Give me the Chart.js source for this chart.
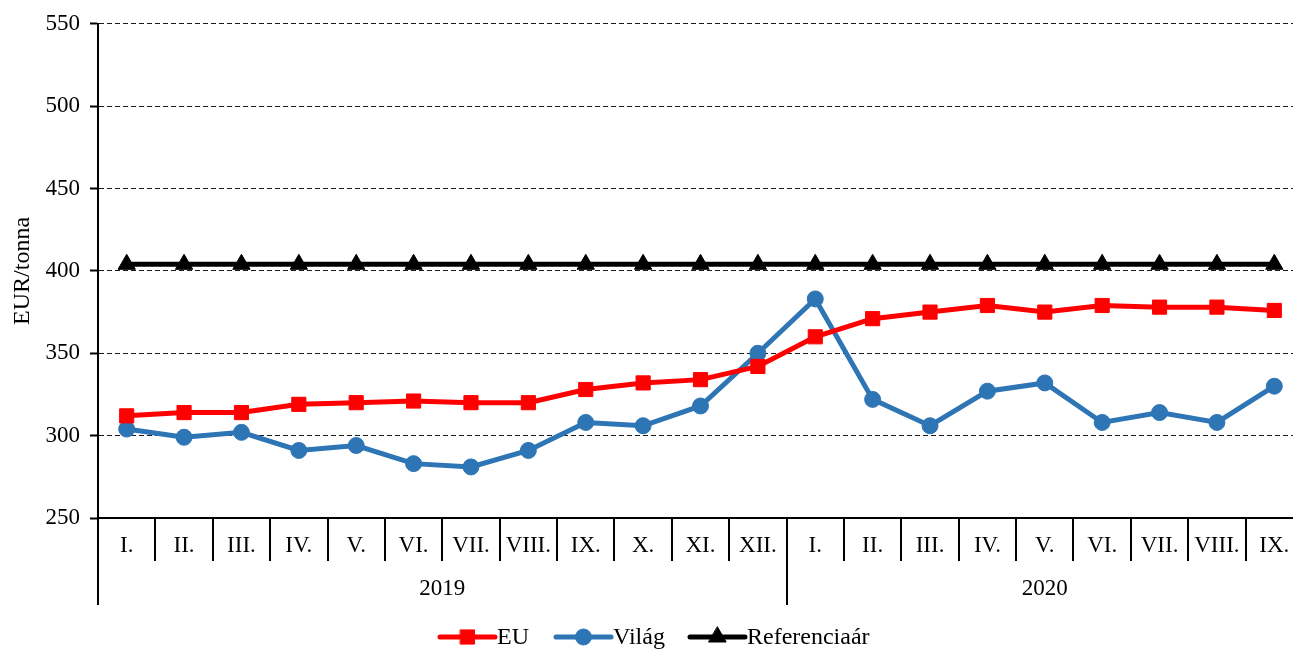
<!DOCTYPE html>
<html>
<head>
<meta charset="utf-8">
<script src="https://cdn.jsdelivr.net/npm/chart.js@4/dist/chart.umd.min.js"></script>
<style>
  html, body { margin: 0; padding: 0; background: #fff; overflow: hidden; }
  #wrap { width: 1314px; height: 649px; }
</style>
</head>
<body>
<div id="wrap"><canvas id="chart" width="1314" height="649"></canvas></div>
<script>
// months of 2019 (12) and 2020 (9)
const months = ["I.", "II.", "III.", "IV.", "V.", "VI.", "VII.", "VIII.", "IX.", "X.", "XI.", "XII.",
                "I.", "II.", "III.", "IV.", "V.", "VI.", "VII.", "VIII.", "IX."];
const years = ["2019", "2020"];
const yearLengths = [12, 9];

const euValues = [312, 314, 314, 319, 320, 321, 320, 320, 328, 332, 334, 342,
                  360, 371, 375, 379, 375, 379, 378, 378, 376];
const vilagValues = [304, 299, 302, 291, 294, 283, 281, 291, 308, 306, 318, 350,
                     383, 322, 306, 327, 332, 308, 314, 308, 330];
const refValues = [404, 404, 404, 404, 404, 404, 404, 404, 404, 404, 404, 404,
                   404, 404, 404, 404, 404, 404, 404, 404, 404];

const yTicks = [250, 300, 350, 400, 450, 500, 550];

const fontFamily = "'Liberation Serif', 'Times New Roman', serif";

// boxes under the x axis, year labels and a line+marker legend
const axisBoxes = {
    id: "axisBoxes",
    afterDraw(chart) {
        let ctx = chart.ctx;
        let x = chart.scales.x;
        let area = chart.chartArea;
        let half = (x.getPixelForValue(1) - x.getPixelForValue(0)) / 2;
        ctx.save();
        ctx.strokeStyle = "#000";
        ctx.lineWidth = 2;
        // month separators
        for (let i = 1; i < months.length; i++) {
            let px = Math.round(x.getPixelForValue(i) - half);
            ctx.beginPath();
            ctx.moveTo(px, area.bottom);
            ctx.lineTo(px, area.bottom + 43);
            ctx.stroke();
        }
        // year separators and labels
        let start = 0;
        ctx.fillStyle = "#000";
        ctx.font = "23px " + fontFamily;
        ctx.textAlign = "center";
        ctx.textBaseline = "middle";
        for (let k = 0; k <= years.length; k++) {
            let px = Math.round(x.getPixelForValue(start) - half);
            ctx.beginPath();
            ctx.moveTo(px, area.bottom);
            ctx.lineTo(px, area.bottom + 87);
            ctx.stroke();
            if (k < years.length) {
                let end = start + yearLengths[k];
                let left = x.getPixelForValue(start) - half;
                let right = x.getPixelForValue(end - 1) + half;
                ctx.fillText(years[k], (left + right) / 2, area.bottom + 71);
                start = end;
            }
        }
        // legend
        let legendY = 637;
        let items = [
            { x: 440, ds: chart.data.datasets[0] },
            { x: 556, ds: chart.data.datasets[1] },
            { x: 690, ds: chart.data.datasets[2] }
        ];
        ctx.textAlign = "left";
        ctx.font = "24px " + fontFamily;
        items.forEach(it => {
            ctx.strokeStyle = it.ds.borderColor;
            ctx.fillStyle = it.ds.borderColor;
            ctx.lineWidth = 5;
            ctx.lineCap = "round";
            ctx.beginPath();
            ctx.moveTo(it.x, legendY);
            ctx.lineTo(it.x + 55, legendY);
            ctx.stroke();
            ctx.lineWidth = 1;
            Chart.helpers.drawPoint(ctx, {
                pointStyle: it.ds.pointStyle,
                radius: it.ds.pointRadius,
                borderWidth: 1
            }, it.x + 27.5, legendY);
            ctx.fillStyle = "#000";
            ctx.fillText(it.ds.label, it.x + 57, legendY + 1);
        });
        ctx.restore();
    }
};

new Chart(document.getElementById("chart"), {
    type: "line",
    data: {
        labels: months,
        datasets: [{
            label: "EU",
            data: euValues,
            borderColor: "#ff0000",
            backgroundColor: "#ff0000",
            borderWidth: 5,
            pointStyle: "rect",
            pointRadius: 10,
            pointBorderWidth: 1,
            pointBorderColor: "#ff0000",
            pointBackgroundColor: "#ff0000"
        }, {
            label: "Világ",
            data: vilagValues,
            borderColor: "#2e75b6",
            backgroundColor: "#2e75b6",
            borderWidth: 5,
            pointStyle: "circle",
            pointRadius: 8,
            pointBorderWidth: 1,
            pointBorderColor: "#2e75b6",
            pointBackgroundColor: "#2e75b6"
        }, {
            label: "Referenciaár",
            data: refValues,
            borderColor: "#000000",
            backgroundColor: "#000000",
            borderWidth: 5,
            pointStyle: "triangle",
            pointRadius: 10,
            pointBorderWidth: 1,
            pointBorderColor: "#000000",
            pointBackgroundColor: "#000000"
        }]
    },
    options: {
        responsive: false,
        animation: false,
        layout: { padding: { top: 23, right: 0, left: 0, bottom: 0 } },
        plugins: {
            legend: { display: false },
            tooltip: { enabled: false }
        },
        scales: {
            x: {
                offset: true,
                grid: { display: false, drawTicks: false },
                border: { display: true, color: "#000", width: 2 },
                ticks: {
                    color: "#000",
                    padding: 14,
                    maxRotation: 0,
                    autoSkip: false,
                    font: { family: fontFamily, size: 23 }
                },
                afterFit(scale) { scale.height = 131; }
            },
            y: {
                min: 250,
                max: 550,
                afterBuildTicks(scale) { scale.ticks = yTicks.map(v => ({ value: v })); },
                grid: {
                    color: "#1a1a1a",
                    lineWidth: 1,
                    tickLength: 8,
                    tickColor: "#000",
                    tickWidth: 2,
                    tickBorderDash: []
                },
                border: { display: true, color: "#000", width: 2, dash: [5, 3] },
                ticks: {
                    color: "#000",
                    padding: 10,
                    font: { family: fontFamily, size: 23 }
                },
                title: {
                    display: true,
                    text: "EUR/tonna",
                    color: "#000",
                    padding: { top: 8, bottom: 0 },
                    font: { family: fontFamily, size: 24 }
                },
                afterFit(scale) { scale.width = 98; }
            }
        }
    },
    plugins: [axisBoxes]
});
</script>
</body>
</html>
